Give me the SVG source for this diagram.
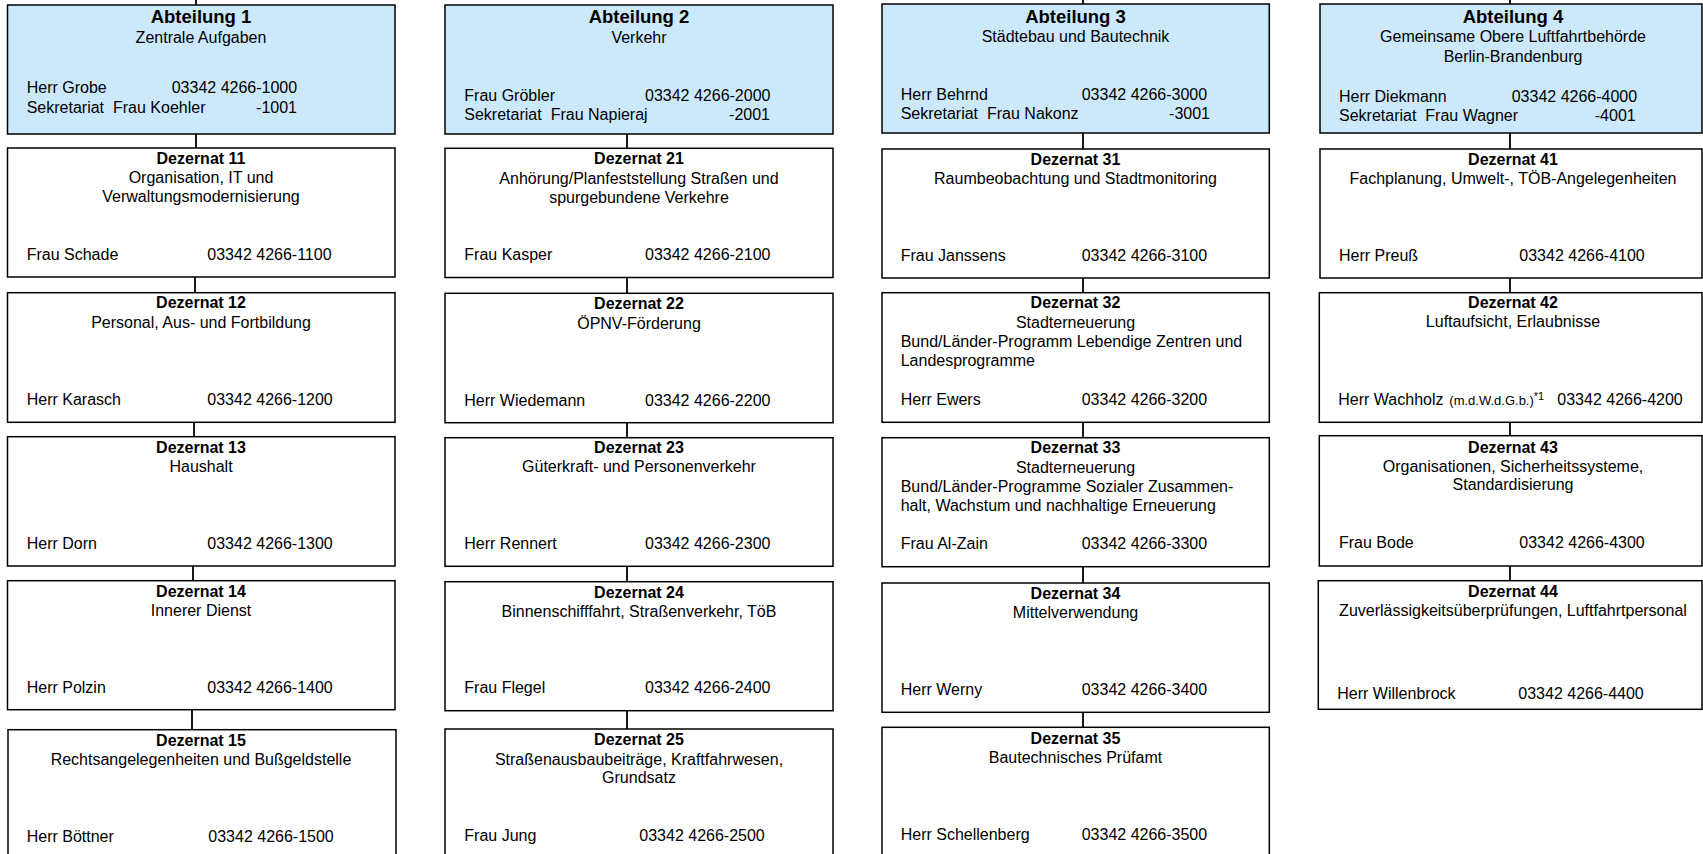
<svg xmlns="http://www.w3.org/2000/svg" width="1703" height="854" viewBox="0 0 1703 854">
<style>
rect.abt{fill:#CCE9FC;stroke:#000;stroke-width:1.5}
rect.dez{fill:#fff;stroke:#000;stroke-width:1.5}
text{font-family:"Liberation Sans",Arial,Helvetica,sans-serif;font-size:16px;fill:#000}
.t1{font-weight:bold;font-size:18.5px;text-anchor:middle}
.t2{font-weight:bold;text-anchor:middle}
.c{text-anchor:middle}
.e{text-anchor:end}
.sm{font-size:13px}
.sup{font-size:11px}
#connectors line{stroke:#000;stroke-width:1.8}
</style>
<rect x="0" y="0" width="1703" height="854" fill="#fff"/>
<g id="connectors">
<line x1="196" y1="0" x2="196" y2="5"/>
<line x1="196" y1="134" x2="196" y2="148"/>
<line x1="195" y1="277" x2="195" y2="293"/>
<line x1="194" y1="422" x2="194" y2="437"/>
<line x1="193" y1="566" x2="193" y2="581"/>
<line x1="192" y1="710" x2="192" y2="730"/>
<line x1="627" y1="134" x2="627" y2="148"/>
<line x1="627" y1="277" x2="627" y2="293"/>
<line x1="627" y1="422" x2="627" y2="438"/>
<line x1="627" y1="566" x2="627" y2="582"/>
<line x1="627" y1="710" x2="627" y2="729"/>
<line x1="1083" y1="0" x2="1083" y2="4"/>
<line x1="1083" y1="133" x2="1083" y2="149"/>
<line x1="1083" y1="278" x2="1083" y2="293"/>
<line x1="1083" y1="422" x2="1083" y2="438"/>
<line x1="1083" y1="567" x2="1083" y2="583"/>
<line x1="1083" y1="712" x2="1083" y2="727"/>
<line x1="1510" y1="0" x2="1510" y2="4"/>
<line x1="1510" y1="133" x2="1510" y2="149"/>
<line x1="1510" y1="278" x2="1510" y2="293"/>
<line x1="1510" y1="422" x2="1510" y2="436"/>
<line x1="1510" y1="566" x2="1510" y2="581"/>
</g>

<g id="abt1">
<rect class="abt" x="7.5" y="5" width="387.5" height="129"/>
<text class="t1" x="201" y="22.7">Abteilung 1</text>
<text class="c" x="201" y="42.7">Zentrale Aufgaben</text>
<text x="26.7" y="93.3">Herr Grobe</text>
<text x="171.7" y="93.3">03342 4266-1000</text>
<text x="26.7" y="113.3">Sekretariat<tspan x="113">Frau Koehler</tspan></text>
<text class="e" x="297" y="113.3">-1001</text>
</g>
<g id="dez11">
<rect class="dez" x="7.5" y="148" width="387.5" height="129"/>
<text class="t2" x="201" y="164">Dezernat 11</text>
<text class="c" x="201" y="182.7">Organisation, IT und</text>
<text class="c" x="201" y="201.7">Verwaltungsmodernisierung</text>
<text x="26.7" y="260">Frau Schade</text>
<text x="207.3" y="260">03342 4266-1100</text>
</g>
<g id="dez12">
<rect class="dez" x="7.5" y="292.7" width="387.5" height="129.6"/>
<text class="t2" x="201" y="308.3">Dezernat 12</text>
<text class="c" x="201" y="328.3">Personal, Aus- und Fortbildung</text>
<text x="26.7" y="405">Herr Karasch</text>
<text x="207.3" y="405">03342 4266-1200</text>
</g>
<g id="dez13">
<rect class="dez" x="7.5" y="436.7" width="387.5" height="129.3"/>
<text class="t2" x="201" y="452.7">Dezernat 13</text>
<text class="c" x="201" y="471.7">Haushalt</text>
<text x="26.7" y="548.7">Herr Dorn</text>
<text x="207.3" y="548.7">03342 4266-1300</text>
</g>
<g id="dez14">
<rect class="dez" x="7.5" y="580.7" width="387.5" height="129"/>
<text class="t2" x="201" y="597.3">Dezernat 14</text>
<text class="c" x="201" y="616.3">Innerer Dienst</text>
<text x="26.7" y="693">Herr Polzin</text>
<text x="207.3" y="693">03342 4266-1400</text>
</g>
<g id="dez15">
<rect class="dez" x="8" y="729.7" width="388" height="129"/>
<text class="t2" x="201" y="746.3">Dezernat 15</text>
<text class="c" x="201" y="765">Rechtsangelegenheiten und Bußgeldstelle</text>
<text x="26.7" y="841.7">Herr Böttner</text>
<text x="208.3" y="841.7">03342 4266-1500</text>
</g>

<g id="abt2">
<rect class="abt" x="445" y="5" width="388" height="129"/>
<text class="t1" x="639" y="22.7">Abteilung 2</text>
<text class="c" x="639" y="42.7">Verkehr</text>
<text x="464.3" y="101">Frau Gröbler</text>
<text x="645" y="101">03342 4266-2000</text>
<text x="464.3" y="120">Sekretariat<tspan x="550.7">Frau Napieraj</tspan></text>
<text class="e" x="770" y="120">-2001</text>
</g>
<g id="dez21">
<rect class="dez" x="445" y="148.3" width="388" height="129.2"/>
<text class="t2" x="639" y="164">Dezernat 21</text>
<text class="c" x="639" y="184">Anhörung/Planfeststellung Straßen und</text>
<text class="c" x="639" y="202.7">spurgebundene Verkehre</text>
<text x="464.3" y="260">Frau Kasper</text>
<text x="645" y="260">03342 4266-2100</text>
</g>
<g id="dez22">
<rect class="dez" x="445" y="293.3" width="388" height="129.4"/>
<text class="t2" x="639" y="309.3">Dezernat 22</text>
<text class="c" x="639" y="329.3">ÖPNV-Förderung</text>
<text x="464.3" y="406">Herr Wiedemann</text>
<text x="645" y="406">03342 4266-2200</text>
</g>
<g id="dez23">
<rect class="dez" x="445" y="437.7" width="388" height="128.6"/>
<text class="t2" x="639" y="452.7">Dezernat 23</text>
<text class="c" x="639" y="471.7">Güterkraft- und Personenverkehr</text>
<text x="464.3" y="548.7">Herr Rennert</text>
<text x="645" y="548.7">03342 4266-2300</text>
</g>
<g id="dez24">
<rect class="dez" x="445" y="581.7" width="388" height="129"/>
<text class="t2" x="639" y="598">Dezernat 24</text>
<text class="c" x="639" y="616.7">Binnenschifffahrt, Straßenverkehr, TöB</text>
<text x="464.3" y="693.3">Frau Flegel</text>
<text x="645" y="693.3">03342 4266-2400</text>
</g>
<g id="dez25">
<rect class="dez" x="445" y="729" width="388" height="129"/>
<text class="t2" x="639" y="745">Dezernat 25</text>
<text class="c" x="639" y="764.7">Straßenausbaubeiträge, Kraftfahrwesen,</text>
<text class="c" x="639" y="783.3">Grundsatz</text>
<text x="464.3" y="841.3">Frau Jung</text>
<text x="639.3" y="841.3">03342 4266-2500</text>
</g>

<g id="abt3">
<rect class="abt" x="882" y="4" width="387.3" height="129"/>
<text class="t1" x="1075.5" y="22.7">Abteilung 3</text>
<text class="c" x="1075.5" y="41.7">Städtebau und Bautechnik</text>
<text x="900.7" y="100">Herr Behrnd</text>
<text x="1081.7" y="100">03342 4266-3000</text>
<text x="900.7" y="119">Sekretariat<tspan x="987">Frau Nakonz</tspan></text>
<text class="e" x="1210" y="119">-3001</text>
</g>
<g id="dez31">
<rect class="dez" x="882" y="149" width="387.3" height="129"/>
<text class="t2" x="1075.5" y="164.7">Dezernat 31</text>
<text class="c" x="1075.5" y="184.3">Raumbeobachtung und Stadtmonitoring</text>
<text x="900.7" y="260.7">Frau Janssens</text>
<text x="1081.7" y="260.7">03342 4266-3100</text>
</g>
<g id="dez32">
<rect class="dez" x="882" y="292.7" width="387.3" height="129.6"/>
<text class="t2" x="1075.5" y="308.3">Dezernat 32</text>
<text class="c" x="1075.5" y="328.3">Stadterneuerung</text>
<text x="900.7" y="347.3">Bund/Länder-Programm Lebendige Zentren und</text>
<text x="900.7" y="366">Landesprogramme</text>
<text x="900.7" y="405">Herr Ewers</text>
<text x="1081.7" y="405">03342 4266-3200</text>
</g>
<g id="dez33">
<rect class="dez" x="882" y="437.7" width="387.3" height="129"/>
<text class="t2" x="1075.5" y="453.3">Dezernat 33</text>
<text class="c" x="1075.5" y="472.7">Stadterneuerung</text>
<text x="900.7" y="491.7">Bund/Länder-Programme Sozialer Zusammen-</text>
<text x="900.7" y="510.7">halt, Wachstum und nachhaltige Erneuerung</text>
<text x="900.7" y="549.3">Frau Al-Zain</text>
<text x="1081.7" y="549.3">03342 4266-3300</text>
</g>
<g id="dez34">
<rect class="dez" x="882" y="583" width="387.3" height="129.3"/>
<text class="t2" x="1075.5" y="599">Dezernat 34</text>
<text class="c" x="1075.5" y="618.3">Mittelverwendung</text>
<text x="900.7" y="695">Herr Werny</text>
<text x="1081.7" y="695">03342 4266-3400</text>
</g>
<g id="dez35">
<rect class="dez" x="882" y="727.3" width="387.3" height="129"/>
<text class="t2" x="1075.5" y="744">Dezernat 35</text>
<text class="c" x="1075.5" y="763">Bautechnisches Prüfamt</text>
<text x="900.7" y="839.7">Herr Schellenberg</text>
<text x="1081.7" y="839.7">03342 4266-3500</text>
</g>

<g id="abt4">
<rect class="abt" x="1320" y="4" width="382" height="129"/>
<text class="t1" x="1513" y="22.7">Abteilung 4</text>
<text class="c" x="1513" y="41.7">Gemeinsame Obere Luftfahrtbehörde</text>
<text class="c" x="1513" y="61.7">Berlin-Brandenburg</text>
<text x="1339" y="101.7">Herr Diekmann</text>
<text x="1511.7" y="101.7">03342 4266-4000</text>
<text x="1339" y="120.7">Sekretariat<tspan x="1425.3">Frau Wagner</tspan></text>
<text class="e" x="1635.7" y="120.7">-4001</text>
</g>
<g id="dez41">
<rect class="dez" x="1320" y="149" width="382" height="129"/>
<text class="t2" x="1513" y="164.7">Dezernat 41</text>
<text class="c" x="1513" y="184.3">Fachplanung, Umwelt-, TÖB-Angelegenheiten</text>
<text x="1339" y="260.7">Herr Preuß</text>
<text x="1519.3" y="260.7">03342 4266-4100</text>
</g>
<g id="dez42">
<rect class="dez" x="1319.3" y="292.7" width="382.7" height="129.6"/>
<text class="t2" x="1513" y="308.3">Dezernat 42</text>
<text class="c" x="1513" y="327.3">Luftaufsicht, Erlaubnisse</text>
<text x="1338.3" y="405">Herr Wachholz <tspan class="sm" x="1449.3">(m.d.W.d.G.b.)</tspan><tspan class="sup" dy="-5.5">*1</tspan></text>
<text x="1557.3" y="405">03342 4266-4200</text>
</g>
<g id="dez43">
<rect class="dez" x="1319.3" y="435.7" width="382.7" height="130.3"/>
<text class="t2" x="1513" y="452.7">Dezernat 43</text>
<text class="c" x="1513" y="471.7">Organisationen, Sicherheitssysteme,</text>
<text class="c" x="1513" y="490">Standardisierung</text>
<text x="1339" y="548.3">Frau Bode</text>
<text x="1519.3" y="548.3">03342 4266-4300</text>
</g>
<g id="dez44">
<rect class="dez" x="1318.3" y="580.7" width="383.7" height="128.6"/>
<text class="t2" x="1513" y="596.7">Dezernat 44</text>
<text class="c" x="1513" y="616">Zuverlässigkeitsüberprüfungen, Luftfahrtpersonal</text>
<text x="1337.3" y="699.3">Herr Willenbrock</text>
<text x="1518.3" y="699.3">03342 4266-4400</text>
</g>
</svg>
